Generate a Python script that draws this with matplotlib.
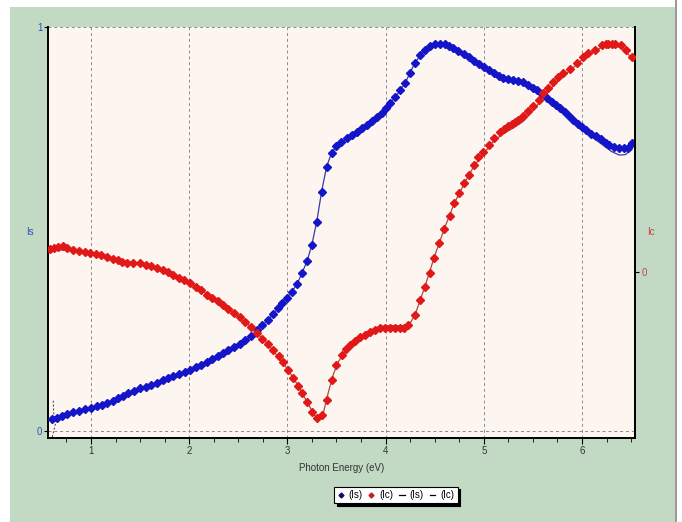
import numpy as np
import matplotlib
matplotlib.use("Agg")
import matplotlib.pyplot as plt
from matplotlib.lines import Line2D
from matplotlib.patches import Rectangle

is_energy = [0.60, 0.65, 0.70, 0.76, 0.82, 0.88, 0.94, 1.00, 1.06, 1.11, 1.16, 1.22, 1.27, 1.33,
             1.38, 1.44, 1.50, 1.56, 1.61, 1.67, 1.73, 1.78, 1.84, 1.90, 1.96, 2.01, 2.07, 2.12,
             2.18, 2.23, 2.29, 2.34, 2.40, 2.46, 2.52, 2.57, 2.63, 2.69, 2.74, 2.80, 2.85, 2.90,
             2.95, 3.00, 3.05, 3.10, 3.15, 3.20, 3.25, 3.30, 3.35, 3.40, 3.45, 3.50, 3.55, 3.61,
             3.66, 3.71, 3.76, 3.81, 3.86, 3.91, 3.96, 4.00, 4.05, 4.10, 4.15, 4.20, 4.25, 4.30,
             4.35, 4.40, 4.45, 4.50, 4.55, 4.60, 4.65, 4.69, 4.74, 4.80, 4.85, 4.90, 4.95, 5.00,
             5.05, 5.10, 5.15, 5.20, 5.25, 5.30, 5.35, 5.40, 5.45, 5.50, 5.54, 5.59, 5.64, 5.69,
             5.74, 5.78, 5.83, 5.87, 5.91, 5.96, 6.00, 6.04, 6.09, 6.14, 6.19, 6.24, 6.28, 6.33,
             6.38, 6.43, 6.47, 6.51]
is_values = [0.030, 0.033, 0.037, 0.041, 0.047, 0.050, 0.054, 0.058, 0.062, 0.065, 0.069, 0.075,
             0.081, 0.087, 0.093, 0.100, 0.107, 0.110, 0.115, 0.120, 0.126, 0.130, 0.135, 0.141,
             0.147, 0.152, 0.158, 0.164, 0.171, 0.178, 0.185, 0.193, 0.200, 0.208, 0.216, 0.225,
             0.236, 0.250, 0.262, 0.276, 0.290, 0.304, 0.316, 0.328, 0.345, 0.364, 0.392, 0.422,
             0.460, 0.518, 0.592, 0.653, 0.688, 0.706, 0.716, 0.725, 0.733, 0.741, 0.749, 0.757,
             0.767, 0.777, 0.788, 0.800, 0.811, 0.826, 0.843, 0.862, 0.886, 0.912, 0.930, 0.943,
             0.953, 0.958, 0.959, 0.957, 0.953, 0.948, 0.941, 0.933, 0.925, 0.916, 0.908, 0.900,
             0.893, 0.885, 0.878, 0.873, 0.871, 0.869, 0.867, 0.863, 0.857, 0.850, 0.843, 0.834,
             0.824, 0.815, 0.807, 0.799, 0.789, 0.779, 0.770, 0.760, 0.752, 0.744, 0.736, 0.729,
             0.722, 0.714, 0.707, 0.703, 0.701, 0.700, 0.700, 0.713]

ic_energy = [0.58, 0.62, 0.66, 0.71, 0.76, 0.82, 0.88, 0.94, 0.99, 1.05, 1.10, 1.16, 1.22, 1.27,
             1.32, 1.37, 1.43, 1.50, 1.56, 1.61, 1.67, 1.73, 1.78, 1.84, 1.90, 1.95, 2.01, 2.07,
             2.12, 2.18, 2.23, 2.29, 2.34, 2.40, 2.46, 2.52, 2.57, 2.63, 2.69, 2.74, 2.80, 2.85,
             2.91, 2.96, 3.01, 3.06, 3.11, 3.15, 3.20, 3.25, 3.30, 3.35, 3.40, 3.45, 3.50, 3.56,
             3.60, 3.64, 3.69, 3.74, 3.79, 3.84, 3.89, 3.94, 3.99, 4.05, 4.10, 4.15, 4.19, 4.23,
             4.30, 4.35, 4.40, 4.45, 4.49, 4.54, 4.59, 4.66, 4.70, 4.75, 4.80, 4.85, 4.90, 4.94,
             4.99, 5.05, 5.10, 5.17, 5.21, 5.25, 5.29, 5.32, 5.35, 5.40, 5.45, 5.50, 5.56, 5.60,
             5.65, 5.70, 5.76, 5.81, 5.88, 5.95, 6.01, 6.06, 6.13, 6.20, 6.24, 6.27, 6.31, 6.34,
             6.40, 6.45, 6.51]
ic_values = [0.057, 0.058, 0.062, 0.064, 0.058, 0.053, 0.051, 0.049, 0.047, 0.044, 0.041, 0.038,
             0.033, 0.029, 0.025, 0.022, 0.023, 0.022, 0.018, 0.014, 0.010, 0.005, 0.000, -0.007,
             -0.014, -0.020, -0.027, -0.037, -0.046, -0.056, -0.064, -0.073, -0.082, -0.091,
             -0.101, -0.111, -0.124, -0.137, -0.151, -0.165, -0.179, -0.193, -0.208, -0.223,
             -0.243, -0.262, -0.282, -0.300, -0.323, -0.347, -0.361, -0.354, -0.317, -0.267,
             -0.230, -0.205, -0.192, -0.181, -0.170, -0.161, -0.155, -0.149, -0.144, -0.140,
             -0.139, -0.139, -0.139, -0.140, -0.138, -0.131, -0.106, -0.069, -0.037, -0.002,
             0.035, 0.072, 0.106, 0.139, 0.171, 0.196, 0.220, 0.240, 0.265, 0.284, 0.296, 0.314,
             0.331, 0.347, 0.354, 0.360, 0.365, 0.370, 0.376, 0.386, 0.397, 0.411, 0.426, 0.442,
             0.456, 0.469, 0.482, 0.492, 0.502, 0.518, 0.533, 0.541, 0.548, 0.562, 0.564, 0.564,
             0.564, 0.564, 0.562, 0.550, 0.532]

# fitted curves
is_fit_energy = [0.60, 0.80, 1.00, 1.20, 1.40, 1.60, 1.80, 2.00, 2.20, 2.40, 2.60, 2.80, 3.00,
                 3.10, 3.20, 3.25, 3.30, 3.35, 3.40, 3.45, 3.50, 3.60, 3.80, 4.00, 4.10, 4.20,
                 4.30, 4.40, 4.50, 4.60, 4.80, 5.00, 5.10, 5.20, 5.30, 5.40, 5.50, 5.60, 5.80,
                 6.00, 6.10, 6.20, 6.30, 6.38, 6.44, 6.50]
is_fit_values = [0.028, 0.043, 0.056, 0.070, 0.090, 0.110, 0.126, 0.146, 0.168, 0.195, 0.228,
                 0.274, 0.330, 0.364, 0.420, 0.462, 0.520, 0.595, 0.655, 0.688, 0.705, 0.722,
                 0.755, 0.800, 0.826, 0.862, 0.912, 0.944, 0.958, 0.956, 0.932, 0.898, 0.880,
                 0.866, 0.864, 0.860, 0.846, 0.830, 0.795, 0.748, 0.728, 0.710, 0.692, 0.683,
                 0.684, 0.695]
ic_fit_energy = [0.58, 0.80, 1.00, 1.20, 1.40, 1.60, 1.80, 2.00, 2.20, 2.40, 2.60, 2.80, 3.00,
                 3.10, 3.20, 3.28, 3.33, 3.37, 3.42, 3.47, 3.52, 3.60, 3.70, 3.80, 3.90, 4.00,
                 4.10, 4.20, 4.25, 4.30, 4.40, 4.50, 4.60, 4.70, 4.80, 4.90, 5.00, 5.10, 5.20,
                 5.30, 5.40, 5.50, 5.60, 5.70, 5.80, 5.90, 6.00, 6.10, 6.20, 6.30, 6.40, 6.45,
                 6.50]
ic_fit_values = [0.055, 0.053, 0.046, 0.035, 0.024, 0.012, -0.003, -0.026, -0.058, -0.091,
                 -0.130, -0.178, -0.240, -0.278, -0.322, -0.356, -0.360, -0.345, -0.295, -0.252,
                 -0.222, -0.192, -0.168, -0.150, -0.138, -0.133, -0.133, -0.134, -0.127, -0.106,
                 -0.037, 0.040, 0.108, 0.170, 0.218, 0.262, 0.293, 0.324, 0.342, 0.356, 0.372,
                 0.398, 0.430, 0.458, 0.482, 0.503, 0.525, 0.543, 0.556, 0.560, 0.555, 0.545,
                 0.530]

# the little dashed stub in the bottom-left corner
stub_energy = [0.615, 0.62, 0.64, 0.62, 0.60]
stub_values = [0.075, 0.045, 0.020, 0.000, -0.02]

BLUE = "#1414c8"
RED = "#e01818"

plt.rcParams['font.family'] = ['Liberation Sans', 'DejaVu Sans']

fig = plt.figure(figsize=(6.82, 5.22), dpi=100, facecolor="white")
fig.patches.append(Rectangle((10 / 682, 0), 665 / 682, 515 / 522, transform=fig.transFigure,
                             facecolor="#c2dac3", edgecolor="none", zorder=-10))
fig.patches.append(Rectangle((675 / 682, 0), 1.5 / 682, 1, transform=fig.transFigure,
                             facecolor="#9a9a9a", edgecolor="none", zorder=-9))

ax = fig.add_axes([48 / 682, 1 - 438 / 522, 587 / 682, 411 / 522])
ax.set_facecolor("#fdf6f0")
ax2 = ax.twinx()

ax.set_xlim(0.562, 6.54)
ax.set_ylim(-0.0173, 1.0)
ax2.set_ylim(-0.411, 0.606)

ax.plot(is_fit_energy, is_fit_values, color="#3838a8", lw=0.9, zorder=2)
ax.plot(is_energy, is_values, ls="none", marker="D", ms=3.6, color=BLUE, zorder=3)
ax.plot(stub_energy, stub_values, color="#333333", lw=0.7, ls=(0, (2, 2)), zorder=2)
ax2.plot(ic_fit_energy, ic_fit_values, color="#a84848", lw=0.9, zorder=2)
ax2.plot(ic_energy, ic_values, ls="none", marker="D", ms=3.6, color=RED, zorder=3)

ax.set_xticks([1, 2, 3, 4, 5, 6])
ax.set_xticks(np.arange(0.75, 6.55, 0.25), minor=True)
ax.set_yticks([0, 1])
ax2.set_yticks([0])
ax.tick_params(axis="x", which="major", length=4, width=0.8, labelsize=7, labelcolor="#333333", pad=2)
ax.tick_params(axis="x", which="minor", length=3, width=0.6)
ax.tick_params(axis="y", length=3, width=0.8, labelsize=7, labelcolor="#3050c0", pad=1)
ax2.tick_params(axis="y", length=3, width=0.8, labelsize=7, labelcolor="#d04040", pad=2)

ax.grid(True, which="major", color="#8a8a8a", ls=(0, (3, 3)), lw=0.7)
for a in (ax, ax2):
    a.spines["top"].set_visible(False)
    for s in ("left", "bottom", "right"):
        a.spines[s].set_linewidth(1.4)
ax2.spines["left"].set_visible(False)
ax2.spines["bottom"].set_visible(False)

ax.set_xlabel("Photon Energy (eV)", fontsize=7, color="#333333", labelpad=5)
fig.text(30 / 682, 1 - 232 / 522, "Is", color="#3050c0", fontsize=7, ha="center", va="center")
fig.text(651 / 682, 1 - 232 / 522, "Ic", color="#d04040", fontsize=7, ha="center", va="center")

handles = [
    Line2D([], [], ls="none", marker="D", ms=2.5, color="#101070"),
    Line2D([], [], ls="none", marker="D", ms=2.5, color="#c02020"),
    Line2D([], [], color="black", lw=0.9),
    Line2D([], [], color="black", lw=0.9),
]
leg = fig.legend(handles, ["(Is)", "(Ic)", "(Is)", "(Ic)"], ncol=4, loc="center",
                 bbox_to_anchor=(396 / 682, 1 - 495 / 522), fontsize=7, frameon=True,
                 fancybox=False, shadow={"color": "black", "alpha": 1.0}, handlelength=0.6,
                 handletextpad=0.5, columnspacing=0.6, borderpad=0.35, borderaxespad=0)
leg.get_frame().set_edgecolor("black")
leg.get_frame().set_linewidth(0.8)

fig.savefig("out.png", dpi=100, facecolor=fig.get_facecolor())
